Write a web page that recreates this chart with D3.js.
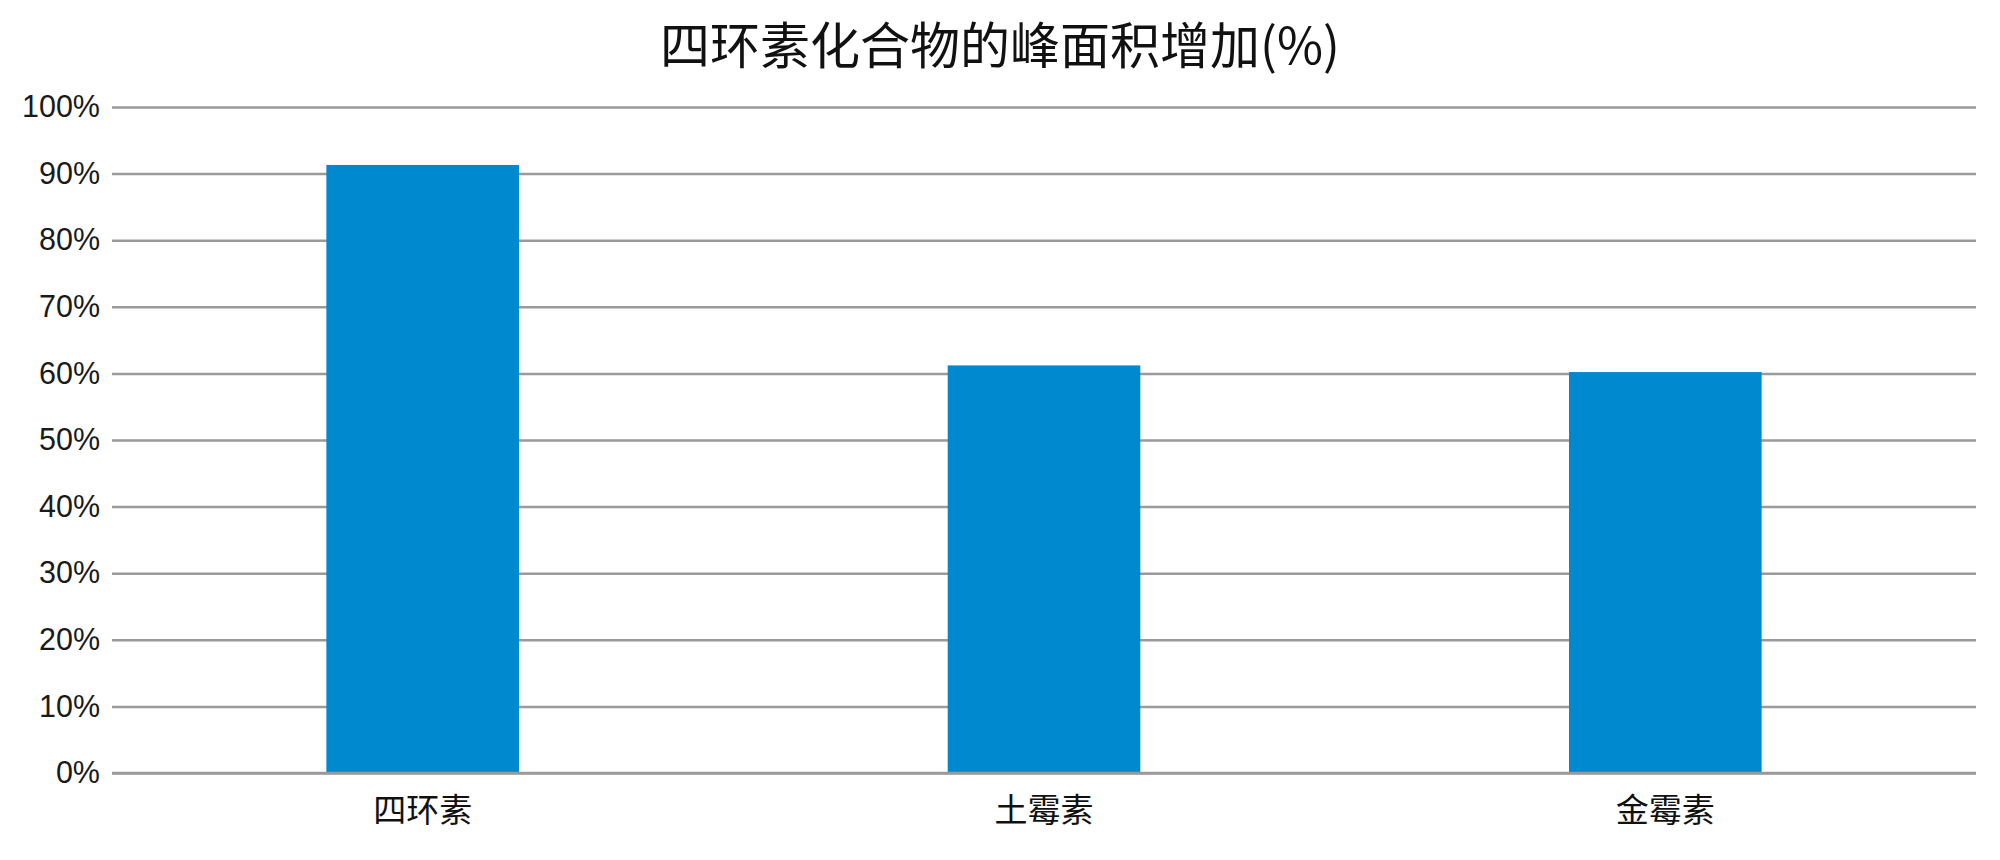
<!DOCTYPE html>
<html><head><meta charset="utf-8">
<script src="https://cdn.jsdelivr.net/npm/d3@7"></script>
<style>body{margin:0;background:#fff}svg{display:block}</style>
</head><body>
<script>
const categories = ["四环素", "土霉素", "金霉素"];
const values = [91.3, 61.2, 60.2];
const yTicks = [0, 10, 20, 30, 40, 50, 60, 70, 80, 90, 100];
const title = "四环素化合物的峰面积增加(%)";

const W = 2000, H = 860;
const margin = {left: 112, right: 24, top: 107, bottom: 87};
const svg = d3.select("body").append("svg").attr("width", W).attr("height", H);

const x = d3.scaleBand().domain(categories).range([margin.left, W - margin.right])
  .paddingInner(0.69).paddingOuter(0.345);
const y = d3.scaleLinear().domain([0, 100]).range([H - margin.bottom, margin.top]);

const cjk = "'Noto Sans CJK SC', 'Liberation Sans', Arial, sans-serif";

// gridlines
const yAxis = d3.axisLeft(y).tickValues(yTicks).tickFormat(d => d + "%")
  .tickSize(-(W - margin.left - margin.right)).tickPadding(12);
const gy = svg.append("g").attr("transform", `translate(${margin.left},0)`).call(yAxis);
gy.select(".domain").remove();
gy.selectAll(".tick line").attr("stroke", "#9a9a9a").attr("stroke-width", 2.5);
gy.selectAll(".tick text").attr("font-family", "'Liberation Sans', Arial, sans-serif")
  .attr("font-size", 30.5).attr("fill", "#1a1a1a").attr("x", -12);

// bars
svg.append("g").selectAll("rect").data(values).join("rect")
  .attr("x", (d, i) => x(categories[i]))
  .attr("width", x.bandwidth())
  .attr("y", d => y(d))
  .attr("height", d => y(0) - y(d))
  .attr("fill", "#0089cf");

// baseline on top
svg.append("line").attr("x1", margin.left).attr("x2", W - margin.right)
  .attr("y1", y(0)).attr("y2", y(0)).attr("stroke", "#9a9a9a").attr("stroke-width", 2.5);

// x axis labels
const xAxis = d3.axisBottom(x).tickSize(0).tickPadding(26);
const gx = svg.append("g").attr("transform", `translate(0,${y(0)})`).call(xAxis);
gx.select(".domain").remove();
gx.selectAll(".tick text").attr("font-family", cjk).attr("font-size", 33).attr("fill", "#111");

// title
svg.append("text").attr("x", 1000).attr("y", 64).attr("text-anchor", "middle")
  .attr("font-family", cjk).attr("font-size", 50).attr("fill", "#111").text(title);
</script>
</body></html>
